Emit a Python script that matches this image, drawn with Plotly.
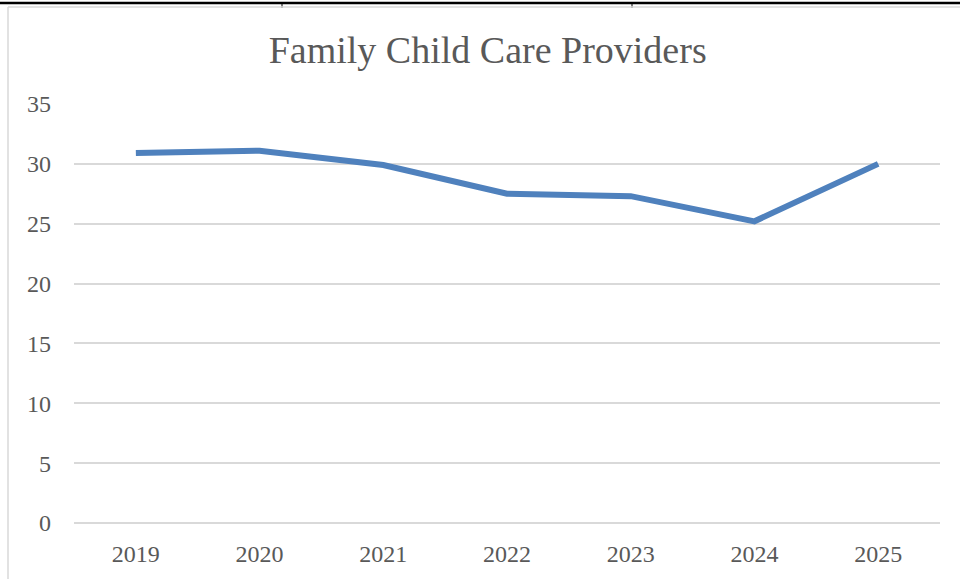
import plotly.graph_objects as go

years = ["2019", "2020", "2021", "2022", "2023", "2024", "2025"]
providers = [30.9, 31.1, 29.9, 27.5, 27.3, 25.2, 30.0]
y_ticks = [0, 5, 10, 15, 20, 25, 30, 35]
title_text = "Family Child Care Providers"

fig = go.Figure()
fig.add_trace(go.Scatter(
    x=years, y=providers, mode="lines",
    line=dict(color="#4f81bd", width=6),
    hoverinfo="skip", showlegend=False,
))

font_family = "Liberation Serif"
text_color = "#595959"
grid_color = "#d9d9d9"

fig.update_layout(
    width=960, height=579,
    margin=dict(l=74, r=20, t=104, b=56),
    paper_bgcolor="white", plot_bgcolor="white",
    title=dict(text=title_text, x=0.508, xref="container", xanchor="center",
               y=1 - 63 / 579, yref="container", yanchor="bottom",
               font=dict(family=font_family, size=38, color=text_color)),
    xaxis=dict(type="category", range=[-0.5, 6.5], showgrid=False, zeroline=False,
               showline=False, ticks="",
               tickfont=dict(family=font_family, size=24, color=text_color),
               ticklabelstandoff=14),
    yaxis=dict(range=[0, 35], tickvals=y_ticks, showgrid=True, gridcolor=grid_color,
               gridwidth=1.5, zeroline=True, zerolinecolor=grid_color, zerolinewidth=1.5,
               showline=False, ticks="",
               tickfont=dict(family=font_family, size=24, color=text_color),
               ticklabelstandoff=22),
    shapes=[
        dict(type="line", xref="paper", yref="paper", x0=-74/866, x1=1 + 20/866,
             y0=1 + 101/419, y1=1 + 101/419, line=dict(color="black", width=2.5)),
        dict(type="line", xref="paper", yref="paper", x0=(282-74)/866, x1=(282-74)/866,
             y0=1 + 101/419, y1=1 + 96/419, line=dict(color="black", width=1)),
        dict(type="line", xref="paper", yref="paper", x0=(632-74)/866, x1=(632-74)/866,
             y0=1 + 101/419, y1=1 + 96/419, line=dict(color="black", width=1)),
        dict(type="line", xref="paper", yref="paper", x0=(8-74)/866, x1=1 + 20/866,
             y0=1 + 97/419, y1=1 + 97/419, line=dict(color=grid_color, width=1.5)),
        dict(type="line", xref="paper", yref="paper", x0=(8-74)/866, x1=(8-74)/866,
             y0=1 + 97/419, y1=-56/419, line=dict(color=grid_color, width=1.5)),
    ],
)

fig.write_html("out.html", config={"displayModeBar": False},
               post_script="document.body.style.margin='0';document.body.style.overflow='hidden';")
